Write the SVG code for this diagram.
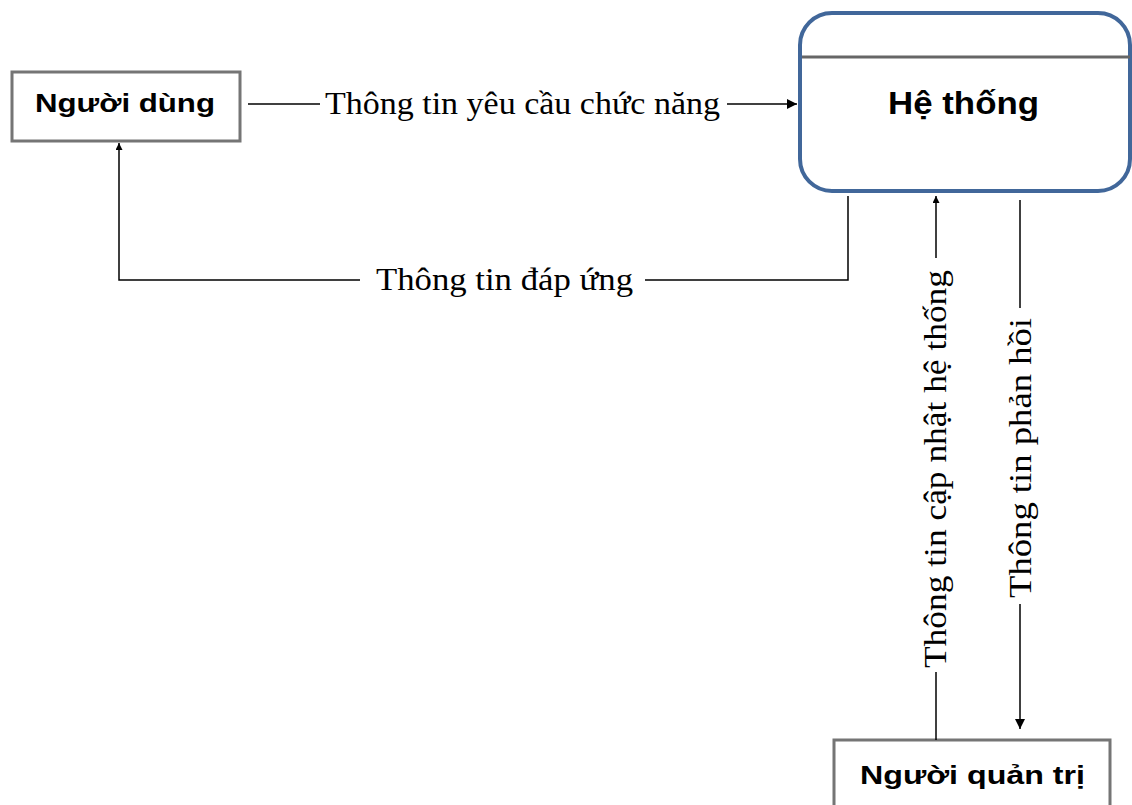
<svg xmlns="http://www.w3.org/2000/svg" width="1132" height="805" viewBox="0 0 1132 805">
<defs>
<style>
.box{fill:#fff;stroke:#757575;stroke-width:3}
.lbl{font-family:"Liberation Sans",Arial,sans-serif;font-weight:bold;fill:#000}
.flow{font-family:"Liberation Serif","Times New Roman",serif;font-size:32px;fill:#000}
.ln{fill:none;stroke:#000;stroke-width:1.5}
</style>
<marker id="ah" viewBox="0 0 10 10" refX="10" refY="5" markerWidth="10" markerHeight="10" markerUnits="userSpaceOnUse" orient="auto">
<path d="M0,0 L10,5 L0,10 z" fill="#000"/>
</marker>
<marker id="ahs" viewBox="0 0 10 10" refX="10" refY="5" markerWidth="9" markerHeight="7" markerUnits="userSpaceOnUse" orient="auto">
<path d="M0,0 L10,5 L0,10 z" fill="#000"/>
</marker>
</defs>
<rect width="1132" height="805" fill="#fff"/>
<g id="nguoi-dung">
<rect class="box" x="12" y="72" width="228" height="69"/>
<text class="lbl" x="35" y="112" font-size="25" textLength="180" lengthAdjust="spacingAndGlyphs">Người dùng</text>
</g>
<g id="he-thong">
<rect x="800" y="13" width="330" height="178" rx="32" ry="32" fill="#fff" stroke="#41679a" stroke-width="4"/>
<line x1="802" y1="57" x2="1130" y2="57" stroke="#666" stroke-width="3"/>
<text class="lbl" x="888" y="114" font-size="32" textLength="151" lengthAdjust="spacingAndGlyphs">Hệ thống</text>
</g>
<g id="nguoi-quan-tri">
<rect class="box" x="834" y="740" width="276" height="80"/>
<text class="lbl" x="860" y="784" font-size="25" textLength="225" lengthAdjust="spacingAndGlyphs">Người quản trị</text>
</g>
<g id="connectors">
<line class="ln" x1="248" y1="104" x2="320" y2="104"/>
<line class="ln" x1="727" y1="104" x2="797" y2="104" marker-end="url(#ah)"/>
<text class="flow" x="325" y="114" textLength="395" lengthAdjust="spacingAndGlyphs">Thông tin yêu cầu chức năng</text>
<polyline class="ln" points="848,196 848,280 645,280"/>
<polyline class="ln" points="360,280 119,280 119,143" marker-end="url(#ahs)"/>
<text class="flow" x="376" y="290" textLength="257" lengthAdjust="spacingAndGlyphs">Thông tin đáp ứng</text>
<line class="ln" x1="936" y1="740" x2="936" y2="672"/>
<line class="ln" x1="936" y1="258" x2="936" y2="196" marker-end="url(#ahs)"/>
<text class="flow" transform="translate(946,668) rotate(-90)" textLength="398" lengthAdjust="spacingAndGlyphs">Thông tin cập nhật hệ thống</text>
<line class="ln" x1="1020" y1="200" x2="1020" y2="308"/>
<line class="ln" x1="1020" y1="604" x2="1020" y2="729" marker-end="url(#ah)"/>
<text class="flow" transform="translate(1031,598) rotate(-90)" textLength="280" lengthAdjust="spacingAndGlyphs">Thông tin phản hồi</text>
</g>
</svg>
